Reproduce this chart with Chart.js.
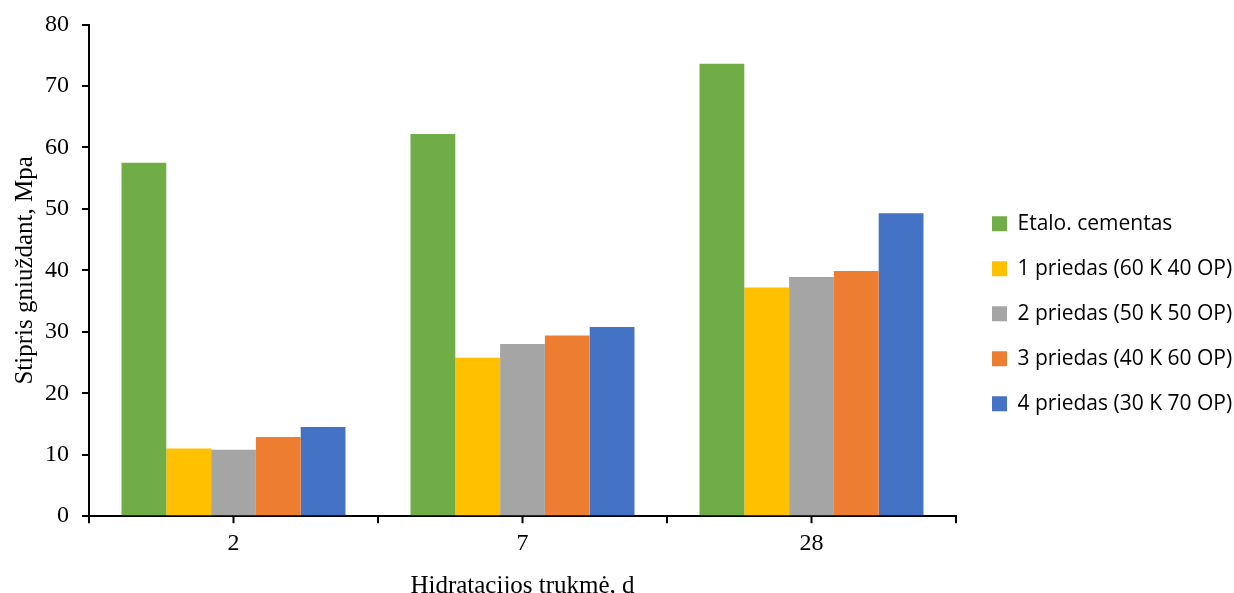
<!DOCTYPE html>
<html>
<head>
<meta charset="utf-8">
<script src="https://cdn.jsdelivr.net/npm/chart.js@4"></script>
<style>
  body { margin: 0; background: #fff; }
</style>
</head>
<body>
<canvas id="chart" width="1234" height="593"></canvas>
<script>
var days = ["2", "7", "28"];
var etalonas = [57.5, 62.2, 73.6];
var priedas1 = [11.0, 25.8, 37.2];
var priedas2 = [10.8, 28.0, 38.9];
var priedas3 = [12.9, 29.4, 39.9];
var priedas4 = [14.5, 30.8, 49.3];
var yTicks = [0, 10, 20, 30, 40, 50, 60, 70, 80];

var serif = "'Liberation Serif', 'Times New Roman', serif";

// short tick marks under each category centre (Excel draws them there too)
var centreTicks = {
    id: 'centreTicks',
    afterDraw(chart) {
        var sc = chart.scales.x;
        var c = chart.ctx;
        c.save();
        c.strokeStyle = '#000';
        c.lineWidth = 2;
        sc.ticks.forEach((t, i) => {
            var px = sc.getPixelForTick(i);
            c.beginPath();
            c.moveTo(px, sc.top);
            c.lineTo(px, sc.top + 7);
            c.stroke();
        });
        c.restore();
    }
};

window.onload = () => {
    var ctx = document.getElementById("chart").getContext("2d");
    new Chart(ctx, {
        type: 'bar',
        data: {
            labels: days,
            datasets: [
                { label: "Etalo. cementas", data: etalonas, backgroundColor: "#70ad47" },
                { label: "1 priedas (60 K 40 OP)", data: priedas1, backgroundColor: "#ffc000" },
                { label: "2 priedas (50 K 50 OP)", data: priedas2, backgroundColor: "#a5a5a5" },
                { label: "3 priedas (40 K 60 OP)", data: priedas3, backgroundColor: "#ed7d31" },
                { label: "4 priedas (30 K 70 OP)", data: priedas4, backgroundColor: "#4472c4" }
            ]
        },
        plugins: [centreTicks],
        options: {
            responsive: false,
            animation: false,
            categoryPercentage: 0.775,
            barPercentage: 1,
            layout: {
                padding: { top: 4.5, left: 10, bottom: 0, right: 0 }
            },
            plugins: {
                tooltip: { enabled: false },
                legend: {
                    position: 'right',
                    maxWidth: 266,
                    title: {
                        display: true,
                        text: '',
                        font: { size: 1 },
                        padding: { top: 29, bottom: 0 }
                    },
                    labels: {
                        boxWidth: 15,
                        boxHeight: 15,
                        padding: 24,
                        color: '#000',
                        font: { family: "'Open Sans', sans-serif", size: 21 }
                    }
                }
            },
            scales: {
                x: {
                    grid: {
                        drawOnChartArea: false,
                        color: '#000',
                        tickLength: 7,
                        lineWidth: 2
                    },
                    border: { color: '#000', width: 2 },
                    ticks: {
                        color: '#000',
                        padding: 6,
                        font: { family: serif, size: 24 }
                    },
                    title: {
                        display: true,
                        text: 'Hidratacijos trukmė, d',
                        color: '#000',
                        padding: { top: 7, bottom: -8 },
                        font: { family: serif, size: 25 }
                    }
                },
                y: {
                    min: 0,
                    max: 80,
                    afterBuildTicks: (axis) => {
                        axis.ticks = yTicks.map(v => ({ value: v }));
                    },
                    afterFit: (axis) => {
                        axis.width = 79;
                        axis.paddingTop = 24.5;
                    },
                    grid: {
                        drawOnChartArea: false,
                        color: '#000',
                        tickLength: 7,
                        lineWidth: 2
                    },
                    border: { color: '#000', width: 2 },
                    ticks: {
                        color: '#000',
                        padding: 13,
                        font: { family: serif, size: 24 }
                    },
                    title: {
                        display: true,
                        text: 'Stipris gniuždant, Mpa',
                        color: '#000',
                        padding: { top: 0, bottom: 5 },
                        font: { family: serif, size: 25 }
                    }
                },
                // empty spacer between the plot and the legend
                gap: {
                    position: 'right',
                    grid: { display: false },
                    border: { display: false },
                    ticks: { display: false },
                    afterFit: (axis) => { axis.width = 12; }
                }
            }
        }
    });
};
</script>
</body>
</html>
